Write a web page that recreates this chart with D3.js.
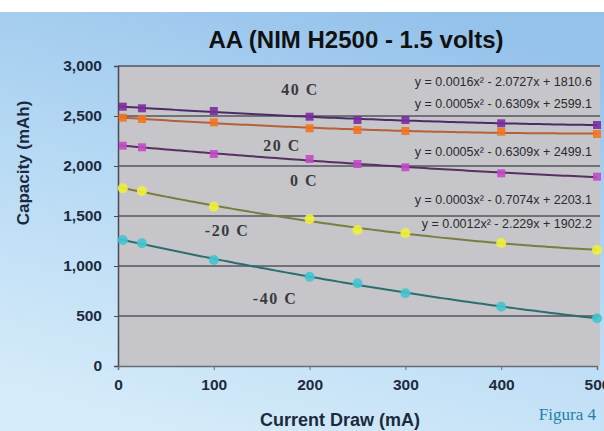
<!DOCTYPE html>
<html>
<head>
<meta charset="utf-8">
<script src="https://cdn.jsdelivr.net/npm/d3@7"></script>
<style>
  html, body { margin: 0; padding: 0; background: #fff; }
  svg { display: block; }
</style>
</head>
<body>
<svg id="chart" width="604" height="431"></svg>
<script>
// ---- data ----
const currentDraw = [5, 25, 100, 200, 250, 300, 400, 500];
const cap40  = [2593, 2577, 2550, 2493, 2460, 2460, 2427, 2410];
const cap20  = [2483, 2470, 2437, 2377, 2360, 2350, 2343, 2320];
const cap0   = [2203, 2187, 2120, 2070, 2020, 1987, 1927, 1893];
const capM20 = [1777, 1750, 1593, 1470, 1360, 1330, 1230, 1160];
const capM40 = [1260, 1227, 1060, 893, 827, 727, 593, 477];
const seriesNames = ["40 C", "20 C", "0 C", "-20 C", "-40 C"];
const yTicks = [0, 500, 1000, 1500, 2000, 2500, 3000];
const xTicks = [0, 100, 200, 300, 400, 500];
const equations = [
  "y = 0.0016x\u00B2 - 2.0727x + 1810.6",
  "y = 0.0005x\u00B2 - 0.6309x + 2599.1",
  "y = 0.0005x\u00B2 - 0.6309x + 2499.1",
  "y = 0.0003x\u00B2 - 0.7074x + 2203.1",
  "y = 0.0012x\u00B2 - 2.229x + 1902.2"
];
const titleText = "AA (NIM H2500 - 1.5 volts)";
const xTitle = "Current Draw (mA)";
const yTitle = "Capacity (mAh)";
const figLabel = "Figura 4";

// ---- styles ----
const series = [
  {name: seriesNames[0], values: cap40,  marker: "#7b2c9e", line: "#4b2d66", shape: "square", lx: 300, ly: 95},
  {name: seriesNames[1], values: cap20,  marker: "#f2741f", line: "#b5603a", shape: "square", lx: 282, ly: 151},
  {name: seriesNames[2], values: cap0,   marker: "#c24ac4", line: "#56305f", shape: "square", lx: 304, ly: 186},
  {name: seriesNames[3], values: capM20, marker: "#f0f03a", line: "#7c7c40", shape: "circle", lx: 227, ly: 236},
  {name: seriesNames[4], values: capM40, marker: "#42c4cf", line: "#2a6e70", shape: "circle", lx: 275, ly: 304}
];
const eqPos = [82, 104, 152, 200, 224];

const svg = d3.select("#chart");
const W = 604, H = 431;

// background
const defs = svg.append("defs");
const grad = defs.append("linearGradient").attr("id", "bg")
  .attr("x1", "0.3").attr("y1", "1").attr("x2", "0.7").attr("y2", "0");
grad.append("stop").attr("offset", "0").attr("stop-color", "#d4ebf9");
grad.append("stop").attr("offset", "0.55").attr("stop-color", "#b3d7f3");
grad.append("stop").attr("offset", "1").attr("stop-color", "#95c2eb");
svg.append("rect").attr("x", 0).attr("y", 0).attr("width", W).attr("height", H).attr("fill", "#ffffff");
svg.append("rect").attr("x", 0).attr("y", 12).attr("width", W).attr("height", H - 12).attr("fill", "url(#bg)");

// scales
const x = d3.scaleLinear().domain([0, 500]).range([118, 597]);
const y = d3.scaleLinear().domain([0, 3000]).range([366, 66]);

// plot area
svg.append("rect").attr("x", 118).attr("y", 66).attr("width", 482).attr("height", 300)
  .attr("fill", "#c6c6ca");

// gridlines
svg.append("g").selectAll("line").data(yTicks.filter(d => d > 0)).join("line")
  .attr("x1", 118).attr("x2", 600)
  .attr("y1", d => y(d)).attr("y2", d => y(d))
  .attr("stroke", "#55555b").attr("stroke-width", 1.5);

// axes
const yAxis = d3.axisLeft(y).tickValues(yTicks).tickSize(4).tickPadding(12)
  .tickFormat(d3.format(","));
const gy = svg.append("g").attr("transform", "translate(118,0)").call(yAxis);
gy.select(".domain").attr("stroke", "#4a4a55").attr("stroke-width", 1.5);
gy.selectAll(".tick line").attr("stroke", "#4a4a55");
gy.selectAll("text").attr("font-family", "Arial, 'Liberation Sans', sans-serif")
  .attr("font-weight", "bold").attr("font-size", 15.5).attr("fill", "#1c2a3e");

const xAxis = d3.axisBottom(x).tickValues(xTicks).tickSize(4).tickPadding(9)
  .tickFormat(d3.format("d"));
const gx = svg.append("g").attr("transform", "translate(0,366)").call(xAxis);
gx.select(".domain").attr("stroke", "#6a6a72").attr("stroke-width", 1.5);
gx.selectAll(".tick line").attr("stroke", "#6a6a72");
gx.selectAll("text").attr("font-family", "Arial, 'Liberation Sans', sans-serif")
  .attr("font-weight", "bold").attr("font-size", 15.5).attr("fill", "#1c2a3e");

// quadratic least squares trendline computed from data
function quadFit(xs, ys) {
  let n = xs.length, s = [0,0,0,0,0], t = [0,0,0];
  for (let i = 0; i < n; i++) {
    const xi = xs[i], yi = ys[i];
    for (let k = 0; k < 5; k++) s[k] += Math.pow(xi, k);
    for (let k = 0; k < 3; k++) t[k] += yi * Math.pow(xi, k);
  }
  const A = [[s[0], s[1], s[2], t[0]], [s[1], s[2], s[3], t[1]], [s[2], s[3], s[4], t[2]]];
  for (let i = 0; i < 3; i++) {
    let p = i;
    for (let r = i + 1; r < 3; r++) if (Math.abs(A[r][i]) > Math.abs(A[p][i])) p = r;
    [A[i], A[p]] = [A[p], A[i]];
    for (let r = 0; r < 3; r++) if (r !== i) {
      const f = A[r][i] / A[i][i];
      for (let c = i; c < 4; c++) A[r][c] -= f * A[i][c];
    }
  }
  const c0 = A[0][3] / A[0][0], c1 = A[1][3] / A[1][1], c2 = A[2][3] / A[2][2];
  return xv => c0 + c1 * xv + c2 * xv * xv;
}

const line = d3.line().x(d => x(d[0])).y(d => y(d[1]));
const samples = d3.range(0, 501, 5);

series.forEach(s => {
  const f = quadFit(currentDraw, s.values);
  svg.append("path").datum(samples.map(v => [v, f(v)]))
    .attr("d", line).attr("fill", "none")
    .attr("stroke", s.line).attr("stroke-width", 2);
});

// markers
series.forEach(s => {
  const sym = d3.symbol().type(s.shape === "square" ? d3.symbolSquare : d3.symbolCircle)
    .size(s.shape === "square" ? 64 : 80);
  svg.append("g").selectAll("path").data(currentDraw.map((v, i) => [v, s.values[i]])).join("path")
    .attr("transform", d => `translate(${x(d[0])},${y(d[1])})`)
    .attr("d", sym).attr("fill", s.marker).attr("opacity", 0.9);
});

// temperature labels
svg.append("g").selectAll("text").data(series).join("text")
  .attr("x", d => d.lx).attr("y", d => d.ly).attr("text-anchor", "middle")
  .attr("font-family", "'Liberation Serif', 'Times New Roman', serif")
  .attr("font-weight", "bold").attr("font-size", 16).attr("letter-spacing", 1.5)
  .attr("fill", "#3a3a3e").text(d => d.name);

// equations
svg.append("g").selectAll("text").data(equations).join("text")
  .attr("x", 592).attr("y", (d, i) => eqPos[i] + 4).attr("text-anchor", "end")
  .attr("font-family", "Arial, 'Liberation Sans', sans-serif")
  .attr("font-size", 12.5).attr("fill", "#2a2a30").text(d => d);

// titles
svg.append("text").attr("x", 356).attr("y", 48).attr("text-anchor", "middle")
  .attr("font-family", "Arial, 'Liberation Sans', sans-serif")
  .attr("font-weight", "bold").attr("font-size", 24).attr("fill", "#111")
  .text(titleText);

svg.append("text").attr("transform", "translate(29,163) rotate(-90)")
  .attr("text-anchor", "middle")
  .attr("font-family", "Arial, 'Liberation Sans', sans-serif")
  .attr("font-weight", "bold").attr("font-size", 17).attr("fill", "#1c2a3e")
  .text(yTitle);

svg.append("text").attr("x", 340).attr("y", 426).attr("text-anchor", "middle")
  .attr("font-family", "Arial, 'Liberation Sans', sans-serif")
  .attr("font-weight", "bold").attr("font-size", 18).attr("fill", "#1c2a3e")
  .text(xTitle);

svg.append("text").attr("x", 596).attr("y", 420).attr("text-anchor", "end")
  .attr("font-family", "'Liberation Serif', 'Times New Roman', serif")
  .attr("font-size", 17).attr("fill", "#1f80a8")
  .text(figLabel);
</script>
</body>
</html>
